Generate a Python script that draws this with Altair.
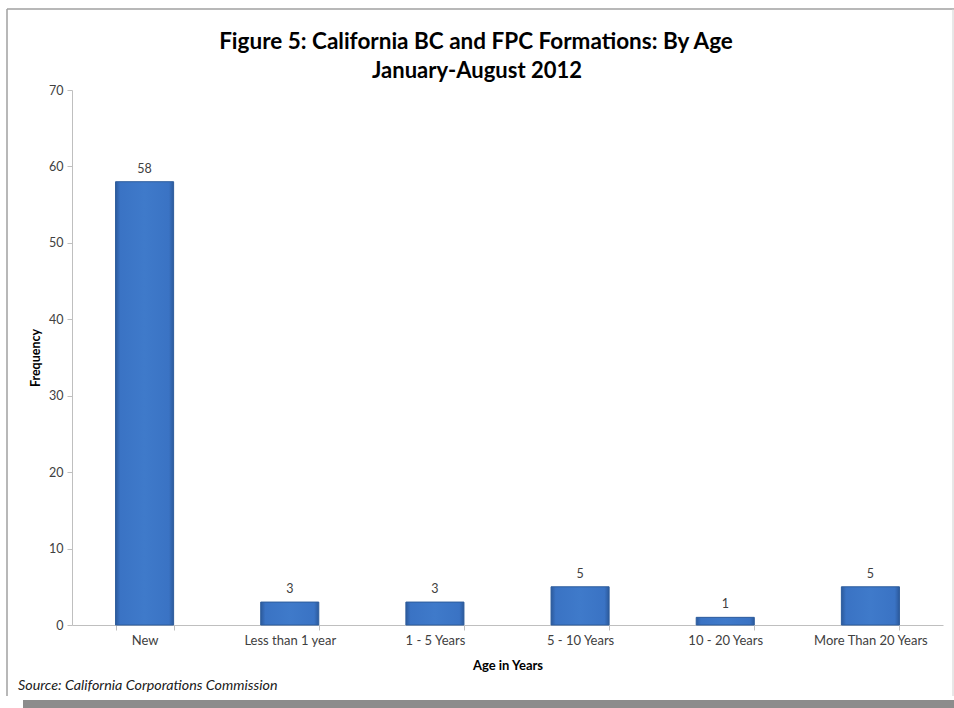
import altair as alt
import pandas as pd

categories = ["New", "Less than 1 year", "1 - 5 Years", "5 - 10 Years", "10 - 20 Years", "More Than 20 Years"]
frequency = [58, 3, 3, 5, 1, 5]
y_ticks = [0, 10, 20, 30, 40, 50, 60, 70]

title_line1 = "Figure 5: California BC and FPC Formations: By Age"
title_line2 = "January-August 2012"
source_text = "Source:  California Corporations Commission"

df = pd.DataFrame({"category": categories, "frequency": frequency})

FONT = "Lato"
W, H = 871, 535
L, T = 72, 90

x_enc = alt.X(
    "category:N", sort=categories,
    scale=alt.Scale(paddingInner=0.6, paddingOuter=0.3),
    axis=alt.Axis(
        title="Age in Years", titleFont=FONT, titleFontSize=13, titleFontWeight="bold",
        titleColor="#000000", titleY=40, titleBaseline="middle",
        labelAngle=0, labelFont=FONT, labelFontSize=13, labelColor="#404040", labelPadding=4,
        tickBand="extent", tickSize=5, tickColor="#bfbfbf", domainColor="#bfbfbf", grid=False,
    ),
)
y_enc = alt.Y(
    "frequency:Q",
    scale=alt.Scale(domain=[0, 70], nice=False),
    axis=alt.Axis(
        values=y_ticks, title="Frequency", titleFont=FONT, titleFontSize=12.5, titleFontWeight="bold",
        titleColor="#000000", titleX=-37, titleY=H / 2, titleBaseline="middle", titleAlign="center",
        labelFont=FONT, labelFontSize=12.5, labelColor="#404040", labelPadding=4,
        tickSize=5, tickColor="#bfbfbf", domainColor="#bfbfbf", grid=False,
    ),
)

bar_fill = alt.Gradient(
    gradient="linear", x1=0, x2=1, y1=0, y2=0,
    stops=[
        alt.GradientStop(color="#2c5a9c", offset=0),
        alt.GradientStop(color="#3a73c4", offset=0.08),
        alt.GradientStop(color="#3f7aca", offset=0.5),
        alt.GradientStop(color="#3a73c4", offset=0.92),
        alt.GradientStop(color="#2c5a9c", offset=1),
    ],
)

bars = alt.Chart(df).mark_bar(fill=bar_fill, stroke="#2d5c9c", strokeWidth=1).encode(x=x_enc, y=y_enc)

labels = alt.Chart(df).mark_text(
    baseline="bottom", dy=-6, font=FONT, fontSize=12.5, color="#404040"
).encode(x=alt.X("category:N", sort=categories), y="frequency:Q", text="frequency:Q")

one = pd.DataFrame({"k": [0]})
border_style = dict(color="#a0a0a0", strokeWidth=1.5)
top_line = alt.Chart(one).mark_rule(**border_style).encode(
    x=alt.value(7 - L), x2=alt.value(954 - L), y=alt.value(9 - T)
)
left_line = alt.Chart(one).mark_rule(**border_style).encode(
    x=alt.value(7 - L), y=alt.value(9 - T), y2=alt.value(696 - T)
)
right_line = alt.Chart(one).mark_rule(color="#d0d0d0", strokeWidth=1).encode(
    x=alt.value(953 - L), y=alt.value(9 - T), y2=alt.value(696 - T)
)
gray_band = alt.Chart(one).mark_rect(fill="#8c8c8c", stroke=None).encode(
    x=alt.value(23 - L), x2=alt.value(960 - L), y=alt.value(700 - T), y2=alt.value(712 - T)
)
source = alt.Chart(one).mark_text(
    align="left", baseline="middle", font=FONT, fontSize=14.3, fontStyle="italic", color="#202020"
).encode(x=alt.value(18 - L), y=alt.value(686 - T), text=alt.value(source_text))

title1 = alt.Chart(one).mark_text(
    align="center", baseline="middle", font=FONT, fontSize=22.5, fontWeight="bold", color="#000000"
).encode(x=alt.value(476 - L), y=alt.value(42 - T), text=alt.value(title_line1))
title2 = alt.Chart(one).mark_text(
    align="center", baseline="middle", font=FONT, fontSize=22, fontWeight="bold", color="#000000"
).encode(x=alt.value(477 - L), y=alt.value(71 - T), text=alt.value(title_line2))

chart = alt.layer(top_line, left_line, right_line, gray_band, bars, labels, source, title1, title2).properties(
    width=W, height=H,
    autosize=alt.AutoSizeParams(type="none"),
    padding={"left": L, "top": T, "right": 954 - L - W, "bottom": 708 - T - H},
).configure(background="#ffffff").configure_view(stroke=None)

chart.save("out.html", embed_options={"renderer": "svg", "actions": False})
